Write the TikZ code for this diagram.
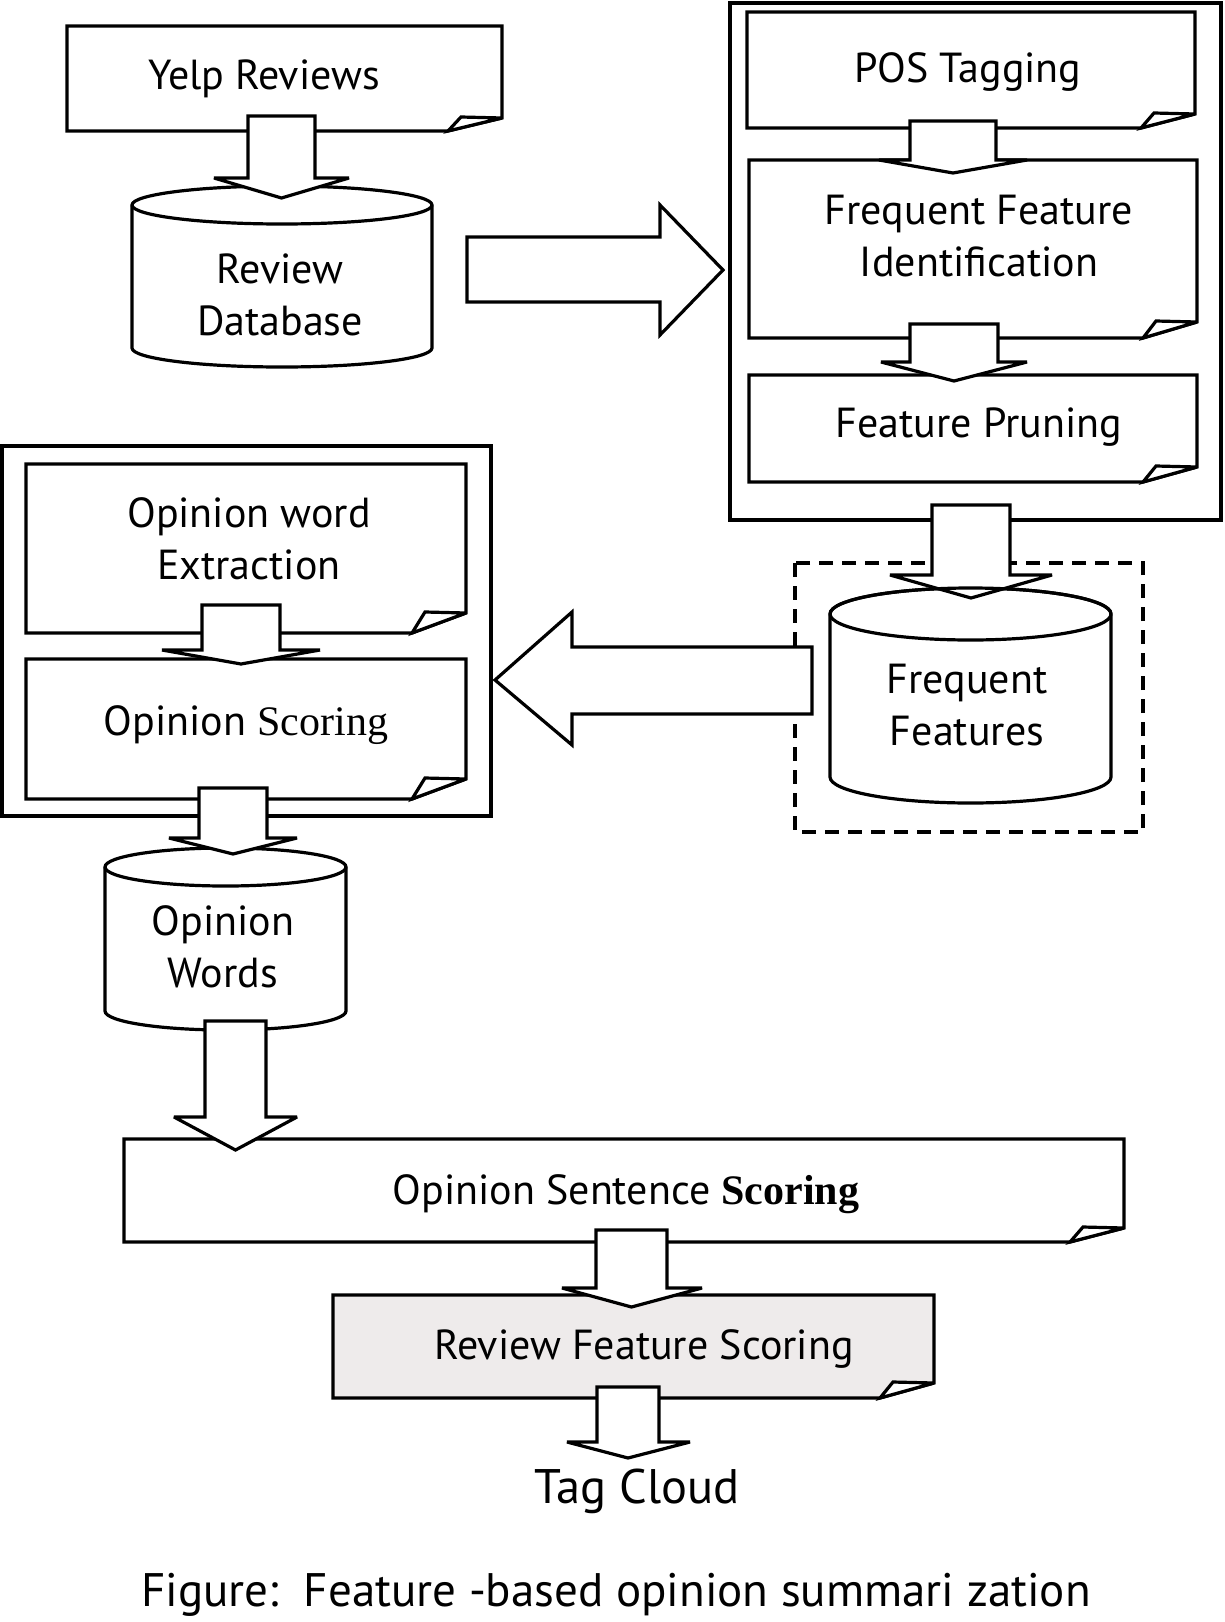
\documentclass[tikz,border=0pt]{standalone}
\usepackage{fontspec}
\setmainfont{PT Sans}
\newfontfamily\tms{Liberation Serif}
\definecolor{rfsgray}{RGB}{238,235,235}
\tikzset{
  ln/.style={draw=black, line width=3.2pt, line join=miter, miter limit=4},
  blk/.style={ln, fill=white},
  lbl/.style={align=center, inner sep=0pt, font=\fontsize{42}{52}\selectfont},
  dashbox/.style={draw=black, line width=3.2pt, dash pattern=on 14pt off 9pt},
}
% document box: x1 y1 x2 y2 curlheight fill
\newcommand\docbox[6]{%
  \path[blk,fill=#6] (#1,#2) -- (#3,#2) -- (#3,#4-#5) -- (#3-54,#4) -- (#1,#4) -- cycle;
  \path[blk] (#3-54,#4) -- (#3-41,#4-#5-1) -- (#3,#4-#5) -- cycle;
}
% down block arrow: xl xr ytop yhead wl wr ytip
\newcommand\darrow[7]{%
  \path[blk] (#1,#3) -- (#2,#3) -- (#2,#4) -- (#6,#4) -- ({(#1+#2)/2},#7) -- (#5,#4) -- (#1,#4) -- cycle;
}
% cylinder: x1 x2 ytop ybot ry rx
\newcommand\cyl[6]{%
  \path[blk] (#1,#3) -- (#1,#4) arc[start angle=180,end angle=360,x radius=#6pt,y radius=#5pt]
    -- (#2,#3) arc[start angle=0,end angle=180,x radius=#6pt,y radius=#5pt] -- cycle;
  \draw[ln] (#1,#3) arc[start angle=180,end angle=360,x radius=#6pt,y radius=#5pt];
}
\begin{document}
\begin{tikzpicture}[x=1pt,y=-1pt]
\useasboundingbox (0,0) rectangle (1225,1622);
\fill[white] (0,0) rectangle (1225,1622);

% outer frames
\draw[ln] (730,3) rectangle (1221,520);
\draw[ln] (2,446) rectangle (491,816);
\draw[dashbox] (795,563) rectangle (1143,832);

% document boxes
\docbox{67}{26}{502}{131}{13}{white}
\docbox{747}{12}{1195}{128}{14}{white}
\docbox{749}{160}{1197}{338}{16}{white}
\docbox{749}{375}{1197}{482}{15}{white}
\docbox{26}{464}{466}{633}{20}{white}
\docbox{26}{659}{466}{799}{20}{white}
\docbox{124}{1139}{1124}{1242}{14}{white}
\docbox{333}{1295}{934}{1398}{15}{rfsgray}

% cylinders
\cyl{132}{432}{205}{348}{19}{150}
\cyl{830}{1111}{614}{777}{26}{140.5}
\cyl{105}{346}{867}{1011}{19}{120.5}

% down arrows
\darrow{248}{315}{116}{178}{214}{349}{198}
\darrow{910}{996}{121}{160}{879}{1027}{173}
\darrow{910}{998}{324}{362}{881}{1027}{381}
\darrow{932}{1010}{505}{575}{890}{1052}{598}
\darrow{202}{280}{605}{650}{162}{320}{664}
\darrow{199}{267}{788}{838}{169}{297}{854}
\darrow{205}{266}{1021}{1117}{174}{297}{1150}
\darrow{596}{667}{1230}{1288}{562}{702}{1307}
\darrow{597}{659}{1387}{1442}{567}{690}{1458}
% redraw top rim of Frequent Features cylinder over the arrow head
\draw[ln] (1111,614) arc[start angle=0,end angle=180,x radius=140.5pt,y radius=26pt];

% horizontal block arrows
\path[blk] (467,237) -- (660,237) -- (660,205) -- (723,270) -- (660,335) -- (660,302) -- (467,302) -- cycle;
\path[blk] (812,647) -- (572,647) -- (572,612) -- (495,680) -- (572,745) -- (572,714) -- (812,714) -- cycle;

% labels
\node[lbl] (yelp) at (264,79) {Yelp Reviews};
\node[lbl] (rdb) at (280,295) {Review\\Database};
\node[lbl] (pos) at (968,72) {POS Tagging};
\node[lbl] (ffi) at (979,236) {Frequent Feature\\Identification};
\node[lbl] (fp) at (979,427) {Feature Pruning};
\node[lbl] (owe) at (249,539) {Opinion word\\Extraction};
\node[lbl] (os) at (246,725) {Opinion {\tms Scoring}};
\node[lbl] (ff) at (967,705) {Frequent\\Features};
\node[lbl] (ow) at (223,947) {Opinion\\Words};
\node[lbl] (oss) at (626,1194) {Opinion Sentence {\tms\bfseries Scoring}};
\node[lbl] (rfs) at (644,1349) {Review Feature Scoring};
\node[lbl, font=\fontsize{48.5}{56}\selectfont] (tag) at (637,1491) {Tag Cloud};
\node[lbl, font=\fontsize{47}{56}\selectfont] (cap) at (616,1595) {Figure:\ \ Feature -based opinion summari zation};
\end{tikzpicture}
\end{document}
